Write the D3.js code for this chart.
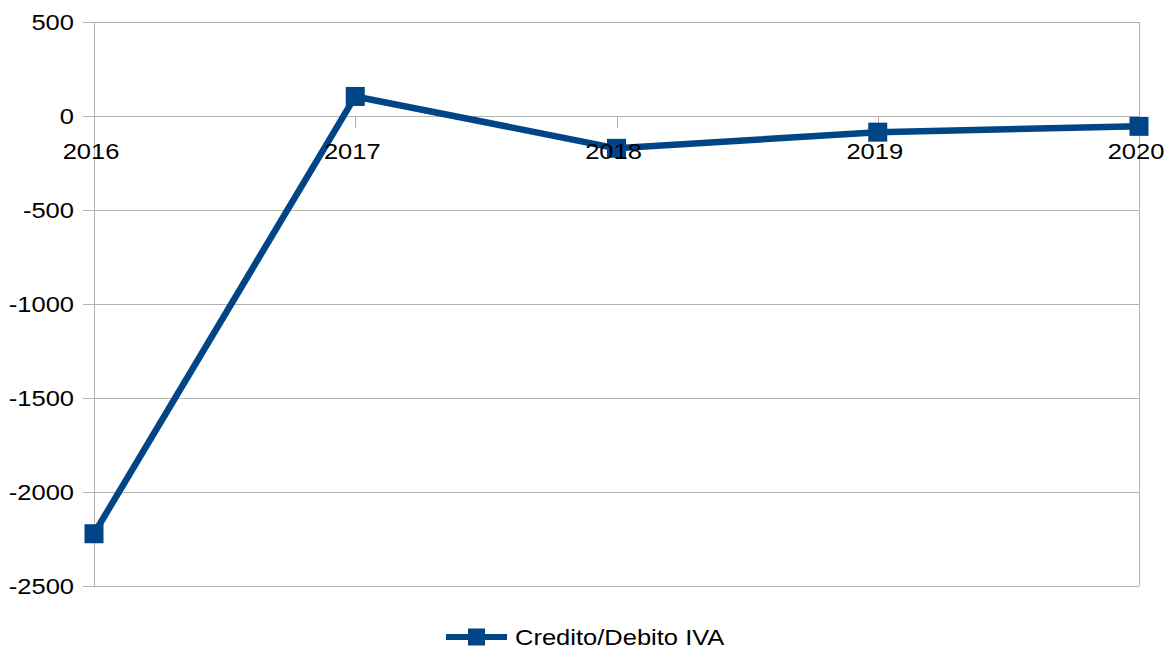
<!DOCTYPE html>
<html>
<head>
<meta charset="utf-8">
<script src="https://cdn.jsdelivr.net/npm/d3@7"></script>
<style>
  body { margin: 0; background: #fff; }
  text { font-family: "Liberation Sans", Arial, sans-serif; fill: #000; }
</style>
</head>
<body>
<div id="wrapper"></div>
<script>
const years = ["2016", "2017", "2018", "2019", "2020"]
const values = [-2222, 104, -172, -86, -55]
const yTicks = [500, 0, -500, -1000, -1500, -2000, -2500]
const seriesName = "Credito/Debito IVA"

const width = 1168
const height = 650
const margin = { top: 22, right: 29, bottom: 64, left: 94 }
const color = "#004586"
const gridColor = "#b3b3b3"
const stretch = 1.16 // the original text is a bit wider than normal

const svg = d3.select("#wrapper").append("svg")
  .attr("width", width)
  .attr("height", height)

const x = d3.scalePoint()
  .domain(years)
  .range([margin.left, width - margin.right])

const y = d3.scaleLinear()
  .domain([-2500, 500])
  .range([height - margin.bottom, margin.top])

// horizontal grid + y ticks
svg.append("g")
  .selectAll("line")
  .data(yTicks)
  .join("line")
  .attr("x1", margin.left - 11)
  .attr("x2", width - margin.right)
  .attr("y1", d => Math.round(y(d)) + 0.5)
  .attr("y2", d => Math.round(y(d)) + 0.5)
  .attr("stroke", gridColor)
  .attr("stroke-width", 1)

svg.append("g")
  .selectAll("text")
  .data(yTicks)
  .join("text")
  .attr("transform", d => `translate(${margin.left - 20},${y(d)}) scale(${stretch},1)`)
  .attr("dy", "0.35em")
  .attr("text-anchor", "end")
  .attr("font-size", 22)
  .text(d => d)

// left and right frame lines
svg.append("line")
  .attr("x1", margin.left + 0.5).attr("x2", margin.left + 0.5)
  .attr("y1", y(500)).attr("y2", y(-2500))
  .attr("stroke", gridColor)
svg.append("line")
  .attr("x1", width - margin.right + 0.5).attr("x2", width - margin.right + 0.5)
  .attr("y1", y(500)).attr("y2", y(-2500))
  .attr("stroke", gridColor)

// category ticks on the zero line
svg.append("g")
  .selectAll("line")
  .data(years)
  .join("line")
  .attr("x1", d => Math.round(x(d)) + 0.5)
  .attr("x2", d => Math.round(x(d)) + 0.5)
  .attr("y1", y(0))
  .attr("y2", y(0) + 12)
  .attr("stroke", gridColor)

// series line
const line = d3.line()
  .x((d, i) => x(years[i]))
  .y(d => y(d))

svg.append("path")
  .datum(values)
  .attr("d", line)
  .attr("fill", "none")
  .attr("stroke", color)
  .attr("stroke-width", 6.5)
  .attr("stroke-linejoin", "round")

const ms = 19
svg.append("g")
  .selectAll("rect")
  .data(values)
  .join("rect")
  .attr("x", (d, i) => x(years[i]) - ms / 2)
  .attr("y", d => y(d) - ms / 2)
  .attr("width", ms)
  .attr("height", ms)
  .attr("fill", color)

// category labels (drawn above the line, like the original)
svg.append("g")
  .selectAll("text")
  .data(years)
  .join("text")
  .attr("transform", d => `translate(${x(d) - 3},${y(0) + 43}) scale(${stretch},1)`)
  .attr("text-anchor", "middle")
  .attr("font-size", 22)
  .text(d => d)

// legend
const legend = svg.append("g")
  .attr("transform", "translate(446, 637)")
legend.append("line")
  .attr("x1", 0).attr("x2", 61)
  .attr("stroke", color)
  .attr("stroke-width", 6)
legend.append("rect")
  .attr("x", 22).attr("y", -8.5)
  .attr("width", 17).attr("height", 17)
  .attr("fill", color)
legend.append("text")
  .attr("transform", `translate(69,0) scale(${stretch},1)`)
  .attr("dy", "0.35em")
  .attr("font-size", 22)
  .text(seriesName)
</script>
</body>
</html>
